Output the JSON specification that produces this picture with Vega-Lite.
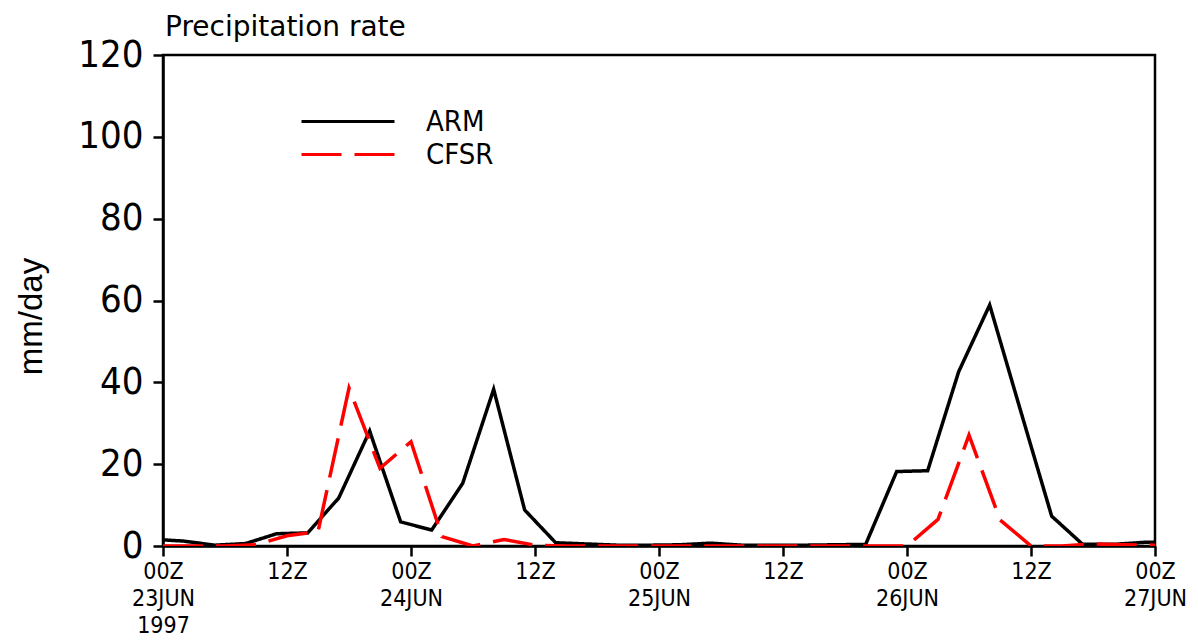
{
  "$schema": "https://vega.github.io/schema/vega-lite/v6.json",
  "width": 992,
  "height": 491,
  "autosize": {"type": "none"},
  "padding": {"left": 163, "top": 55, "right": 43, "bottom": 98},
  "background": "white",
  "title": {"text": "Precipitation rate", "anchor": "start", "frame": "group", "font": "DejaVu Sans", "fontSize": 28, "fontWeight": "normal", "color": "black", "offset": -6, "dx": 2},
  "data": {"values": [
    {"time": "1997-06-23T00:00:00Z", "source": "ARM", "rate": 1.5},
    {"time": "1997-06-23T02:00:00Z", "source": "ARM", "rate": 1.2},
    {"time": "1997-06-23T05:00:00Z", "source": "ARM", "rate": 0.2},
    {"time": "1997-06-23T08:00:00Z", "source": "ARM", "rate": 0.6},
    {"time": "1997-06-23T11:00:00Z", "source": "ARM", "rate": 3.0},
    {"time": "1997-06-23T14:00:00Z", "source": "ARM", "rate": 3.2},
    {"time": "1997-06-23T17:00:00Z", "source": "ARM", "rate": 11.7},
    {"time": "1997-06-23T20:00:00Z", "source": "ARM", "rate": 28.1},
    {"time": "1997-06-23T23:00:00Z", "source": "ARM", "rate": 5.9},
    {"time": "1997-06-24T02:00:00Z", "source": "ARM", "rate": 3.9},
    {"time": "1997-06-24T05:00:00Z", "source": "ARM", "rate": 15.3},
    {"time": "1997-06-24T08:00:00Z", "source": "ARM", "rate": 38.3},
    {"time": "1997-06-24T11:00:00Z", "source": "ARM", "rate": 8.8},
    {"time": "1997-06-24T14:00:00Z", "source": "ARM", "rate": 0.8},
    {"time": "1997-06-24T17:00:00Z", "source": "ARM", "rate": 0.5},
    {"time": "1997-06-24T20:00:00Z", "source": "ARM", "rate": 0.2},
    {"time": "1997-06-24T23:00:00Z", "source": "ARM", "rate": 0.2},
    {"time": "1997-06-25T02:00:00Z", "source": "ARM", "rate": 0.3},
    {"time": "1997-06-25T05:00:00Z", "source": "ARM", "rate": 0.7},
    {"time": "1997-06-25T08:00:00Z", "source": "ARM", "rate": 0.2},
    {"time": "1997-06-25T11:00:00Z", "source": "ARM", "rate": 0.2},
    {"time": "1997-06-25T14:00:00Z", "source": "ARM", "rate": 0.2},
    {"time": "1997-06-25T17:00:00Z", "source": "ARM", "rate": 0.3},
    {"time": "1997-06-25T20:00:00Z", "source": "ARM", "rate": 0.4},
    {"time": "1997-06-25T23:00:00Z", "source": "ARM", "rate": 18.2},
    {"time": "1997-06-26T02:00:00Z", "source": "ARM", "rate": 18.4},
    {"time": "1997-06-26T05:00:00Z", "source": "ARM", "rate": 42.6},
    {"time": "1997-06-26T08:00:00Z", "source": "ARM", "rate": 58.9},
    {"time": "1997-06-26T11:00:00Z", "source": "ARM", "rate": 33.0},
    {"time": "1997-06-26T14:00:00Z", "source": "ARM", "rate": 7.3},
    {"time": "1997-06-26T17:00:00Z", "source": "ARM", "rate": 0.4},
    {"time": "1997-06-26T20:00:00Z", "source": "ARM", "rate": 0.4},
    {"time": "1997-06-26T23:00:00Z", "source": "ARM", "rate": 0.9},
    {"time": "1997-06-27T00:00:00Z", "source": "ARM", "rate": 0.9},
    {"time": "1997-06-23T00:00:00Z", "source": "CFSR", "rate": 0.0},
    {"time": "1997-06-23T03:00:00Z", "source": "CFSR", "rate": 0.0},
    {"time": "1997-06-23T06:00:00Z", "source": "CFSR", "rate": 0.0},
    {"time": "1997-06-23T09:00:00Z", "source": "CFSR", "rate": 0.3},
    {"time": "1997-06-23T12:00:00Z", "source": "CFSR", "rate": 2.5},
    {"time": "1997-06-23T15:00:00Z", "source": "CFSR", "rate": 3.5},
    {"time": "1997-06-23T18:00:00Z", "source": "CFSR", "rate": 38.6},
    {"time": "1997-06-23T21:00:00Z", "source": "CFSR", "rate": 19.0},
    {"time": "1997-06-24T00:00:00Z", "source": "CFSR", "rate": 25.5},
    {"time": "1997-06-24T03:00:00Z", "source": "CFSR", "rate": 2.3},
    {"time": "1997-06-24T06:00:00Z", "source": "CFSR", "rate": 0.0},
    {"time": "1997-06-24T09:00:00Z", "source": "CFSR", "rate": 1.6},
    {"time": "1997-06-24T12:00:00Z", "source": "CFSR", "rate": 0.2},
    {"time": "1997-06-24T15:00:00Z", "source": "CFSR", "rate": 0.0},
    {"time": "1997-06-24T18:00:00Z", "source": "CFSR", "rate": 0.0},
    {"time": "1997-06-24T21:00:00Z", "source": "CFSR", "rate": 0.0},
    {"time": "1997-06-25T00:00:00Z", "source": "CFSR", "rate": 0.0},
    {"time": "1997-06-25T03:00:00Z", "source": "CFSR", "rate": 0.0},
    {"time": "1997-06-25T06:00:00Z", "source": "CFSR", "rate": 0.0},
    {"time": "1997-06-25T09:00:00Z", "source": "CFSR", "rate": 0.0},
    {"time": "1997-06-25T12:00:00Z", "source": "CFSR", "rate": 0.0},
    {"time": "1997-06-25T15:00:00Z", "source": "CFSR", "rate": 0.0},
    {"time": "1997-06-25T18:00:00Z", "source": "CFSR", "rate": 0.0},
    {"time": "1997-06-25T21:00:00Z", "source": "CFSR", "rate": 0.0},
    {"time": "1997-06-26T00:00:00Z", "source": "CFSR", "rate": 0.0},
    {"time": "1997-06-26T03:00:00Z", "source": "CFSR", "rate": 6.5},
    {"time": "1997-06-26T06:00:00Z", "source": "CFSR", "rate": 27.1},
    {"time": "1997-06-26T09:00:00Z", "source": "CFSR", "rate": 6.4},
    {"time": "1997-06-26T12:00:00Z", "source": "CFSR", "rate": 0.0},
    {"time": "1997-06-26T15:00:00Z", "source": "CFSR", "rate": 0.0},
    {"time": "1997-06-26T18:00:00Z", "source": "CFSR", "rate": 0.5},
    {"time": "1997-06-26T21:00:00Z", "source": "CFSR", "rate": 0.3},
    {"time": "1997-06-27T00:00:00Z", "source": "CFSR", "rate": 0.2}
  ]},
  "mark": {"type": "line", "strokeWidth": 3.5, "clip": true, "strokeJoin": "miter", "strokeCap": "butt"},
  "encoding": {
    "x": {
      "field": "time", "type": "temporal",
      "scale": {"type": "utc", "nice": false, "domain": [
        {"year": 1997, "month": 6, "date": 23, "hours": 0, "utc": true},
        {"year": 1997, "month": 6, "date": 27, "hours": 0, "utc": true}
      ]},
      "axis": {
        "title": null,
        "grid": false,
        "values": [
          {"year": 1997, "month": 6, "date": 23, "hours": 0, "utc": true},
          {"year": 1997, "month": 6, "date": 23, "hours": 12, "utc": true},
          {"year": 1997, "month": 6, "date": 24, "hours": 0, "utc": true},
          {"year": 1997, "month": 6, "date": 24, "hours": 12, "utc": true},
          {"year": 1997, "month": 6, "date": 25, "hours": 0, "utc": true},
          {"year": 1997, "month": 6, "date": 25, "hours": 12, "utc": true},
          {"year": 1997, "month": 6, "date": 26, "hours": 0, "utc": true},
          {"year": 1997, "month": 6, "date": 26, "hours": 12, "utc": true},
          {"year": 1997, "month": 6, "date": 27, "hours": 0, "utc": true}
        ],
        "labelExpr": "utchours(datum.value) == 12 ? '12Z' : (utcdate(datum.value) == 23 ? ['00Z', '23JUN', '1997'] : ['00Z', utcFormat(datum.value, '%d') + 'JUN'])",
        "labelFont": "DejaVu Sans Condensed, sans-serif",
        "labelFontSize": 23,
        "labelLineHeight": 27,
        "labelPadding": 4,
        "labelAlign": "center",
        "labelBaseline": "top",
        "labelOverlap": false,
        "labelFlush": false,
        "labelBound": false,
        "tickSize": 10,
        "tickWidth": 2.5,
        "domainWidth": 2.5
      }
    },
    "y": {
      "field": "rate", "type": "quantitative",
      "scale": {"domain": [0, 120], "nice": false, "zero": true},
      "axis": {
        "title": "mm/day",
        "titleFont": "Liberation Sans",
        "titleFontSize": 33,
        "titleFontWeight": "normal",
        "titleAngle": -90,
        "titleX": -132,
        "titleY": 261,
        "titleAlign": "center",
        "titleBaseline": "middle",
        "values": [0, 20, 40, 60, 80, 100, 120],
        "labelFont": "DejaVu Sans Condensed, sans-serif",
        "labelFontSize": 38,
        "labelPadding": 10,
        "labelFlush": false,
        "labelOverlap": false,
        "tickSize": 10,
        "tickWidth": 2.5,
        "domainWidth": 2.5,
        "grid": false
      }
    },
    "color": {
      "field": "source", "type": "nominal",
      "scale": {"domain": ["ARM", "CFSR"], "range": ["black", "#ff0000"]},
      "legend": {
        "title": null,
        "orient": "none",
        "legendX": 137,
        "legendY": 50,
        "symbolType": "stroke",
        "symbolSize": 8649,
        "symbolStrokeWidth": 3,
        "clipHeight": 33,
        "rowPadding": 0,
        "labelOffset": 30,
        "labelFont": "DejaVu Sans Condensed, sans-serif",
        "labelFontSize": 29,
        "labelColor": "black",
        "padding": 0
      }
    },
    "strokeDash": {
      "field": "source", "type": "nominal",
      "scale": {"domain": ["ARM", "CFSR"], "range": [[1, 0], [40, 13]]},
      "legend": {
        "title": null,
        "orient": "none",
        "legendX": 137,
        "legendY": 50,
        "symbolType": "stroke",
        "symbolSize": 8649,
        "symbolStrokeWidth": 3,
        "clipHeight": 33,
        "rowPadding": 0,
        "labelOffset": 30,
        "labelFont": "DejaVu Sans Condensed, sans-serif",
        "labelFontSize": 29,
        "labelColor": "black",
        "padding": 0
      }
    }
  },
  "config": {
    "view": {"stroke": "black", "strokeWidth": 2.5},
    "axis": {"domainColor": "black", "tickColor": "black", "labelColor": "black", "titleColor": "black"}
  }
}
